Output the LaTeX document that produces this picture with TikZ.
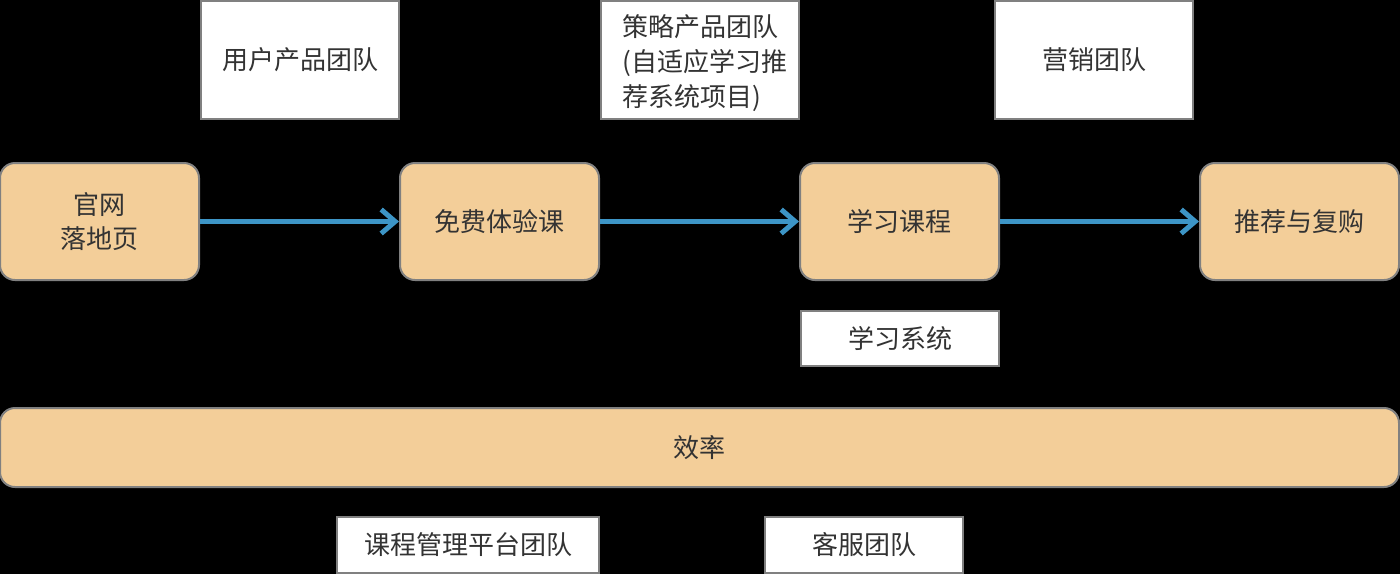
\documentclass[tikz,border=0pt]{standalone}
\usepackage{fontspec}
\setmainfont{Noto Sans CJK SC}
\usetikzlibrary{arrows.meta}
\definecolor{stagefill}{HTML}{F3CE99}
\definecolor{edgegray}{HTML}{808080}
\definecolor{flowblue}{HTML}{3D95C6}
\definecolor{txt}{HTML}{333333}
\tikzset{
  stage/.style={draw=edgegray, line width=1pt, fill=stagefill, rounded corners=7.5pt,
    minimum width=99.5pt, minimum height=58.5pt, align=center, text=txt,
    font=\fontsize{13pt}{17pt}\selectfont},
  team/.style={draw=edgegray, line width=1pt, fill=white,
    minimum width=99pt, minimum height=59pt, align=center, text=txt,
    font=\fontsize{13pt}{17.5pt}\selectfont},
  flow/.style={draw=flowblue, line width=2.5pt,
    -{Straight Barb[length=7pt,width=12pt,line width=2.5pt]}}
}

\begin{document}
\begin{tikzpicture}[x=0.5pt,y=-0.5pt]
\fill[black] (0,0) rectangle (1400,574);
\useasboundingbox (0,0) rectangle (1400,574);
% teams on top
\node[team] (userteam) at (300,60) {用户产品团队};
\node[team] (stratteam) at (700,60) {};
\node[text=txt, align=left, font=\fontsize{13pt}{17.5pt}\selectfont] (stratlabel)
  at ([xshift=2.5pt,yshift=-1.5pt]stratteam.center) {策略产品团队\\(自适应学习推\\荐系统项目)};
\node[team] (mkteam) at (1094,60) {营销团队};
% main flow
\node[stage] (site) at (99.5,221.5) {官网\\落地页};
\node[stage] (trial) at (499.5,221.5) {免费体验课};
\node[stage] (course) at (899.5,221.5) {学习课程};
\node[stage] (rebuy) at (1299.5,221.5) {推荐与复购};
\draw[flow] (site) -- (trial);
\draw[flow] (trial) -- (course);
\draw[flow] (course) -- (rebuy);
\node[team, minimum height=27.5pt] (learnsys) at (900,338.5) {学习系统};
% bottom
\node[stage, minimum width=699.5pt, minimum height=39.5pt] (effic) at (699.5,447.5) {效率};
\node[team, minimum width=131pt, minimum height=28pt] (cmsteam) at (468,545) {课程管理平台团队};
\node[team, minimum height=28pt] (svcteam) at (864,545) {客服团队};
\end{tikzpicture}
\end{document}
